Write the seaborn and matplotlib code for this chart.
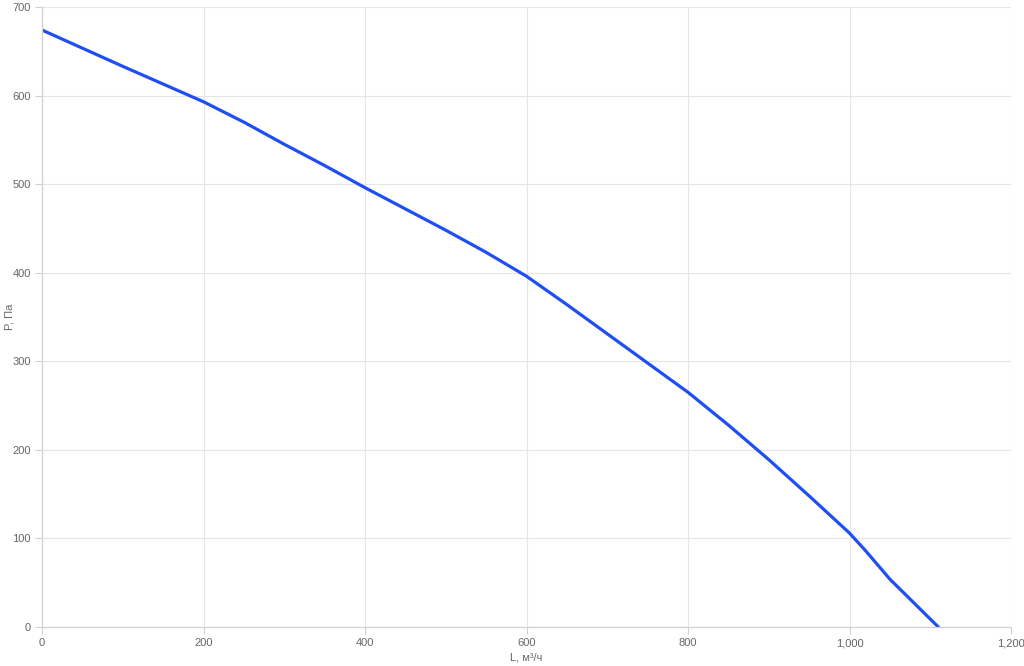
import pandas as pd
import numpy as np
import matplotlib.pyplot as plt
import seaborn as sns
from matplotlib.ticker import FuncFormatter

# fan curve
flow = [0, 100, 200, 250, 300, 350, 400, 450, 500, 550, 600, 650, 700, 750,
        800, 850, 900, 950, 1000, 1020, 1050, 1110]
pressure = [674, 633, 593, 570, 545, 521, 496, 472, 448, 423, 396, 364, 331, 298,
            265, 228, 189, 148, 106, 86, 54, 0]

df = pd.DataFrame({"L": flow, "P": pressure})

sns.set_theme(style="white")
plt.rcParams["font.family"] = ["Liberation Sans", "DejaVu Sans"]

fig = plt.figure(figsize=(10.24, 6.66), dpi=100)
ax = fig.add_axes([42 / 1024, 39 / 666, 969 / 1024, 620 / 666])

sns.lineplot(data=df, x="L", y="P", ax=ax, color="#1f4ef5", linewidth=2.3)

ax.set_xlim(0, 1200)
ax.set_ylim(0, 700)
ax.set_xticks(range(0, 1201, 200))
ax.set_yticks(range(0, 701, 100))
ax.xaxis.set_major_formatter(FuncFormatter(lambda v, p: f"{int(v):,}"))

ax.grid(True, color="#e6e6e6", linewidth=0.8)
for s in ["top", "right"]:
    ax.spines[s].set_visible(False)
for s in ["left", "bottom"]:
    ax.spines[s].set_color("#d0d0d0")
    ax.spines[s].set_linewidth(0.9)

ax.tick_params(axis="both", which="major", length=5, width=0.8, color="#d0d0d0",
               labelsize=8, labelcolor="#666666", pad=3, direction="out",
               bottom=True, left=True)

ax.set_xlabel("L, м³/ч", fontsize=8, color="#666666", labelpad=3)
ax.set_ylabel("P, Па", fontsize=8, color="#666666", va="center")
ax.yaxis.set_label_coords(-0.034, 0.5)

fig.savefig("out.png", dpi=100)
